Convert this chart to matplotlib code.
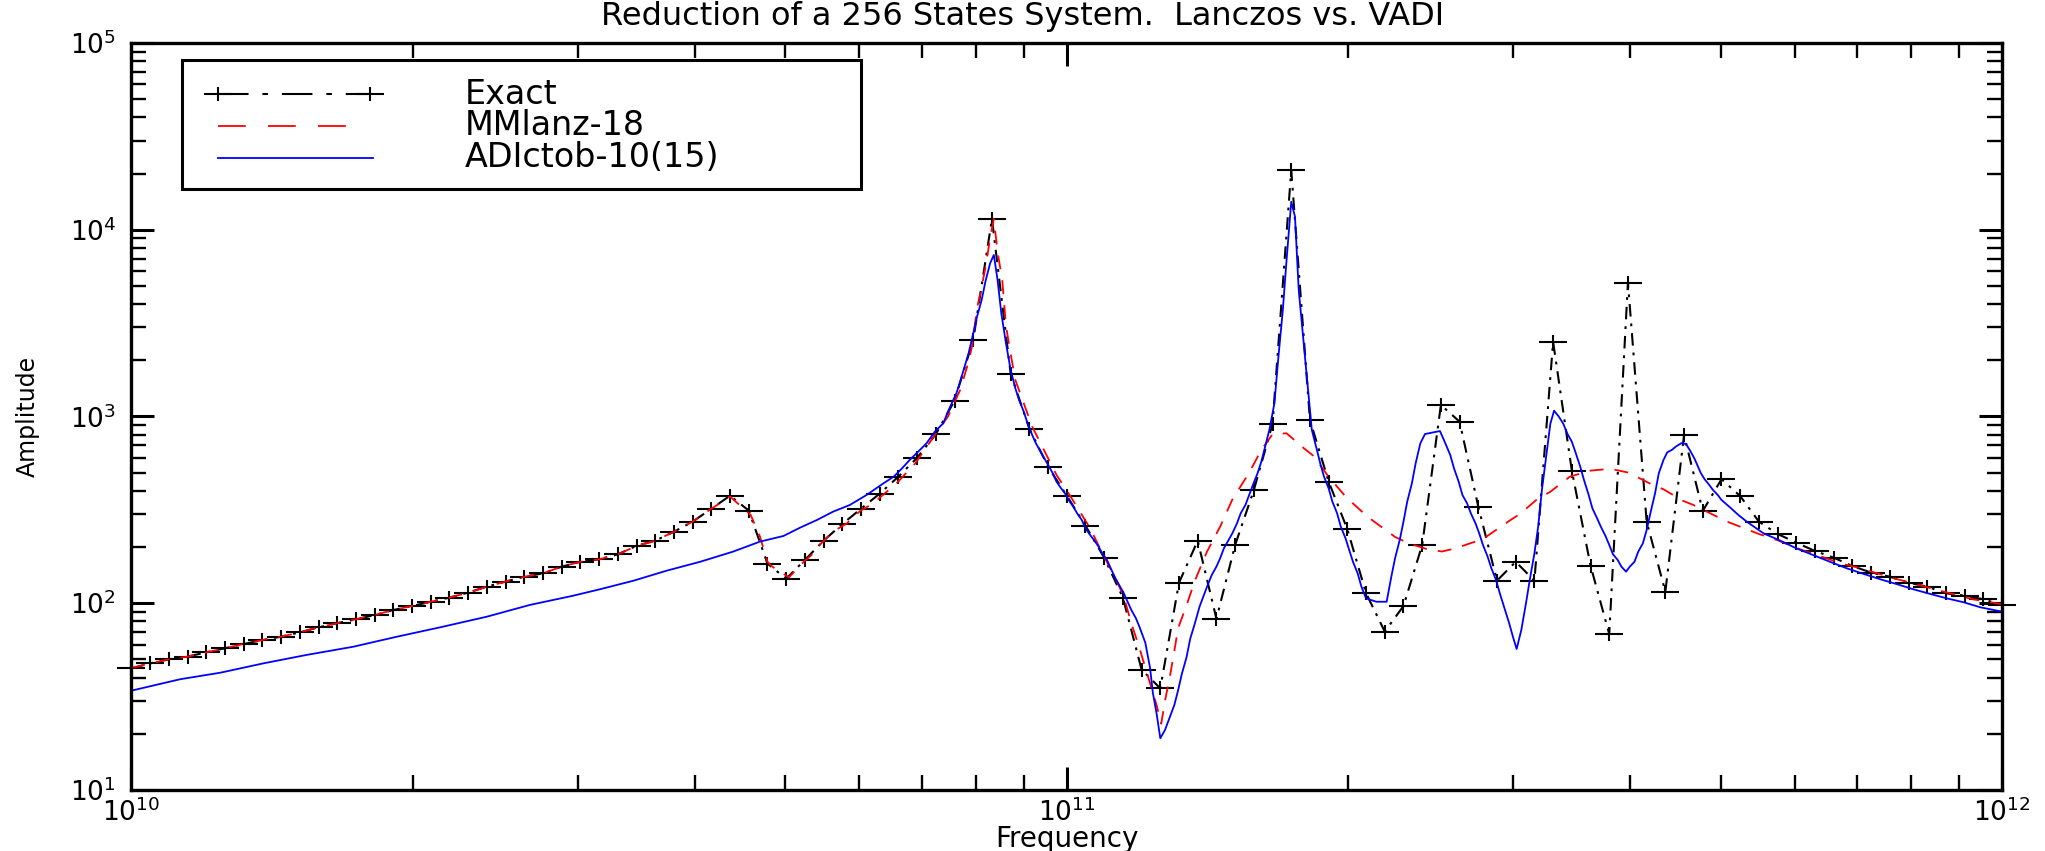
import numpy as np
import matplotlib.pyplot as plt
from matplotlib.path import Path
from matplotlib.ticker import LogLocator, FuncFormatter, NullFormatter

plt.rcParams['lines.scale_dashes'] = False

# Exact response: one sample every 0.02 decade from 1e10 to 1e12 Hz
exact_freq = np.logspace(10, 12, 101)
exact_amp = [44.9, 47.6, 50.1, 51.8, 54.6, 57.4, 60.5, 63.5, 66.2, 69.8,
             74.3, 78.2, 82.0, 86.5, 92.0, 96.6, 101.9, 107.2, 114.0, 122.7,
             130.6, 138.7, 144.5, 157.0, 166.7, 171.8, 182.8, 202.8, 216.3, 241.5,
             273.5, 320.6, 376.7, 313.3, 162.9, 135.2, 170.6, 216.3, 265.5, 320.6,
             386.4, 476.4, 601.2, 803.5, 1216, 2570, 11430, 1694, 861, 538,
             376.7, 260.0, 175.4, 107.2, 44.1, 35.0, 128.8, 216.3, 82.6, 205.1,
             403.6, 912, 20890, 957, 448, 248.9, 113.0, 70.5, 96.6, 205.1,
             1153, 938, 328.9, 132.1, 166.7, 132.1, 2512, 512.9, 158.9, 68.4,
             5212, 273.5, 115.3, 796, 311.9, 461.3, 375.0, 273.5, 235.0, 210.9,
             190.5, 175.4, 158.1, 145.9, 138.7, 128.8, 122.7, 113.0, 109.9, 105.0,
             97.9]

# MMlanz-18 curve (log10 frequency, log10 amplitude)
mml_logf = [10.00, 10.02, 10.04, 10.06, 10.08, 10.10, 10.12, 10.14, 10.16, 10.18,
            10.20, 10.22, 10.24, 10.26, 10.28, 10.30, 10.32, 10.34, 10.36, 10.38,
            10.40, 10.42, 10.44, 10.46, 10.48, 10.50, 10.52, 10.54, 10.56, 10.58,
            10.60, 10.62, 10.640, 10.662, 10.672, 10.680, 10.685, 10.703, 10.707, 10.715,
            10.729, 10.734, 10.750, 10.765, 10.779, 10.793, 10.818, 10.838, 10.859, 10.873,
            10.886, 10.895, 10.899, 10.904, 10.909, 10.914, 10.918, 10.922, 10.926, 10.931,
            10.935, 10.940, 10.945, 10.954, 10.963, 10.989, 11.003, 11.025, 11.039, 11.052,
            11.061, 11.069, 11.078, 11.096, 11.101, 11.105, 11.110, 11.115, 11.119, 11.128,
            11.137, 11.150, 11.164, 11.177, 11.195, 11.208, 11.220, 11.235, 11.253, 11.264,
            11.280, 11.299, 11.321, 11.330, 11.351, 11.365, 11.385, 11.401, 11.415, 11.445,
            11.474, 11.485, 11.502, 11.517, 11.538, 11.560, 11.581, 11.601, 11.625, 11.638,
            11.659, 11.670, 11.706, 11.741, 11.759, 11.784, 11.830, 11.845, 11.884, 11.927,
            11.969, 12.000]
mml_loga = [1.652, 1.678, 1.700, 1.714, 1.737, 1.759, 1.782, 1.803, 1.821, 1.844,
            1.871, 1.893, 1.914, 1.937, 1.964, 1.985, 2.008, 2.030, 2.057, 2.089,
            2.116, 2.142, 2.160, 2.196, 2.222, 2.235, 2.262, 2.307, 2.335, 2.383,
            2.437, 2.506, 2.571, 2.473, 2.356, 2.222, 2.196, 2.139, 2.160, 2.205,
            2.267, 2.303, 2.383, 2.428, 2.494, 2.535, 2.642, 2.749, 2.901, 3.000,
            3.142, 3.293, 3.383, 3.579, 3.693, 3.822, 3.956, 4.058, 3.881, 3.731,
            3.485, 3.335, 3.195, 3.071, 2.946, 2.687, 2.580, 2.401, 2.258, 2.134,
            2.035, 1.893, 1.755, 1.455, 1.355, 1.477, 1.600, 1.744, 1.866, 1.988,
            2.121, 2.277, 2.410, 2.555, 2.699, 2.821, 2.905, 2.910, 2.832, 2.788,
            2.677, 2.566, 2.466, 2.432, 2.355, 2.322, 2.290, 2.277, 2.293, 2.344,
            2.444, 2.480, 2.553, 2.597, 2.678, 2.710, 2.720, 2.699, 2.637, 2.610,
            2.548, 2.526, 2.437, 2.369, 2.339, 2.289, 2.210, 2.192, 2.134, 2.076,
            2.021, 1.995]

# ADIctob-10(15) curve (log10 frequency, log10 amplitude)
adi_logf = [10.000, 10.052, 10.095, 10.141, 10.187, 10.237, 10.284, 10.330, 10.380, 10.426,
            10.472, 10.501, 10.537, 10.572, 10.608, 10.643, 10.672, 10.697, 10.715, 10.733,
            10.750, 10.768, 10.786, 10.804, 10.815, 10.824, 10.832, 10.841, 10.850, 10.859,
            10.868, 10.873, 10.877, 10.882, 10.886, 10.895, 10.900, 10.904, 10.909, 10.913,
            10.918, 10.922, 10.926, 10.930, 10.935, 10.940, 10.945, 10.949, 10.954, 10.958,
            10.963, 10.967, 10.971, 10.976, 10.980, 10.985, 10.989, 10.994, 10.998, 11.002,
            11.007, 11.011, 11.016, 11.020, 11.025, 11.029, 11.034, 11.038, 11.043, 11.047,
            11.052, 11.056, 11.061, 11.065, 11.069, 11.074, 11.078, 11.084, 11.089, 11.092,
            11.096, 11.100, 11.105, 11.110, 11.115, 11.119, 11.123, 11.128, 11.132, 11.137,
            11.142, 11.146, 11.150, 11.155, 11.160, 11.164, 11.168, 11.173, 11.177, 11.182,
            11.186, 11.191, 11.195, 11.199, 11.204, 11.208, 11.213, 11.217, 11.222, 11.226,
            11.231, 11.235, 11.240, 11.244, 11.248, 11.253, 11.258, 11.262, 11.267, 11.271,
            11.275, 11.280, 11.284, 11.289, 11.293, 11.298, 11.302, 11.306, 11.311, 11.315,
            11.320, 11.331, 11.342, 11.347, 11.351, 11.356, 11.360, 11.364, 11.369, 11.373,
            11.378, 11.383, 11.390, 11.399, 11.404, 11.410, 11.414, 11.419, 11.423, 11.428,
            11.432, 11.437, 11.441, 11.445, 11.450, 11.454, 11.459, 11.463, 11.468, 11.473,
            11.477, 11.481, 11.486, 11.491, 11.495, 11.500, 11.504, 11.508, 11.513, 11.517,
            11.521, 11.526, 11.531, 11.535, 11.540, 11.544, 11.549, 11.553, 11.558, 11.562,
            11.567, 11.571, 11.576, 11.580, 11.584, 11.589, 11.593, 11.598, 11.602, 11.607,
            11.611, 11.616, 11.620, 11.624, 11.629, 11.633, 11.638, 11.642, 11.647, 11.651,
            11.657, 11.662, 11.666, 11.671, 11.678, 11.682, 11.687, 11.691, 11.696, 11.700,
            11.709, 11.718, 11.727, 11.745, 11.763, 11.780, 11.798, 11.816, 11.834, 11.852,
            11.870, 11.887, 11.905, 11.923, 11.941, 11.959, 11.977, 12.000]
adi_loga = [1.532, 1.593, 1.628, 1.678, 1.723, 1.767, 1.821, 1.871, 1.928, 1.991,
            2.040, 2.075, 2.121, 2.174, 2.222, 2.276, 2.330, 2.360, 2.405, 2.446,
            2.490, 2.526, 2.580, 2.642, 2.678, 2.723, 2.767, 2.811, 2.856, 2.919,
            2.964, 3.026, 3.071, 3.124, 3.187, 3.338, 3.445, 3.534, 3.624, 3.722,
            3.820, 3.865, 3.731, 3.553, 3.392, 3.249, 3.151, 3.088, 3.026, 2.964,
            2.901, 2.856, 2.821, 2.776, 2.740, 2.696, 2.651, 2.615, 2.589, 2.553,
            2.517, 2.482, 2.446, 2.401, 2.365, 2.339, 2.303, 2.267, 2.232, 2.187,
            2.134, 2.098, 2.053, 2.008, 1.964, 1.919, 1.870, 1.788, 1.655, 1.522,
            1.410, 1.277, 1.321, 1.388, 1.455, 1.533, 1.621, 1.710, 1.810, 1.893,
            1.982, 2.035, 2.089, 2.151, 2.196, 2.241, 2.294, 2.339, 2.374, 2.428,
            2.482, 2.526, 2.580, 2.633, 2.696, 2.758, 2.856, 2.937, 3.071, 3.303,
            3.570, 3.838, 4.150, 4.070, 3.677, 3.410, 3.142, 2.928, 2.830, 2.749,
            2.678, 2.615, 2.544, 2.482, 2.410, 2.348, 2.285, 2.222, 2.160, 2.089,
            2.026, 2.008, 2.008, 2.142, 2.241, 2.339, 2.437, 2.544, 2.642, 2.749,
            2.856, 2.906, 2.913, 2.922, 2.865, 2.794, 2.723, 2.651, 2.580, 2.535,
            2.482, 2.428, 2.374, 2.312, 2.249, 2.187, 2.124, 2.053, 1.973, 1.893,
            1.821, 1.755, 1.857, 2.000, 2.124, 2.267, 2.410, 2.606, 2.803, 2.960,
            3.031, 3.000, 2.960, 2.910, 2.865, 2.807, 2.731, 2.660, 2.580, 2.508,
            2.455, 2.410, 2.360, 2.312, 2.262, 2.232, 2.196, 2.169, 2.196, 2.222,
            2.276, 2.321, 2.392, 2.482, 2.589, 2.696, 2.767, 2.808, 2.821, 2.838,
            2.857, 2.853, 2.821, 2.776, 2.696, 2.664, 2.633, 2.606, 2.580, 2.553,
            2.514, 2.473, 2.437, 2.374, 2.335, 2.294, 2.258, 2.222, 2.187, 2.157,
            2.128, 2.103, 2.075, 2.050, 2.026, 2.005, 1.978, 1.955]

series_labels = ['Exact', 'MMlanz-18', 'ADIctob-10(15)']

# wide, flat plus sign like the original plot markers
plus = Path([(-1, 0), (1, 0), (0, -0.5), (0, 0.5)],
            [Path.MOVETO, Path.LINETO, Path.MOVETO, Path.LINETO])

fig = plt.figure(figsize=(20.45, 8.51), dpi=100)
ax = fig.add_axes([0.0643, 0.0717, 0.9147, 0.8778])
ax.set_xscale('log')
ax.set_yscale('log')

ax.plot(exact_freq, exact_amp, color='black', lw=1.5, dashes=(9, 5, 2, 5),
        marker=plus, ms=20, mew=1.5, mfc='none', mec='black', clip_on=False, zorder=2)
ax.plot(10 ** np.array(mml_logf), 10 ** np.array(mml_loga), color='red', lw=1.3,
        dashes=(10, 8), zorder=2.1)
ax.plot(10 ** np.array(adi_logf), 10 ** np.array(adi_loga), color='blue', lw=1.3, zorder=2.2)

ax.set_xlim(1e10, 1e12)
ax.set_ylim(1e1, 1e5)

# ticks on all four sides, pointing in
sub = np.arange(2, 10)
ax.xaxis.set_minor_locator(LogLocator(base=10, subs=sub, numticks=20))
ax.yaxis.set_minor_locator(LogLocator(base=10, subs=sub, numticks=20))
ax.xaxis.set_minor_formatter(NullFormatter())
ax.yaxis.set_minor_formatter(NullFormatter())
fmt = FuncFormatter(lambda v, p: r'$\mathdefault{10^{%d}}$' % round(np.log10(v)))
ax.xaxis.set_major_formatter(fmt)
ax.yaxis.set_major_formatter(fmt)
ax.tick_params(which='both', direction='in', top=True, right=True)
ax.tick_params(which='major', length=16.5, width=2.2)
ax.tick_params(which='minor', length=10.8, width=1.7)
ax.tick_params(axis='y', labelsize=19, pad=11)
ax.tick_params(axis='x', labelsize=19, pad=6, labelfontfamily='Liberation Sans Narrow')
for s in ax.spines.values():
    s.set_linewidth(2.4)

ax.set_xlabel('Frequency', fontsize=20, family='Liberation Sans Narrow', va='center')
ax.xaxis.set_label_coords(0.5, -0.065)
ax.set_ylabel('Amplitude', fontsize=17, family='Liberation Sans Narrow', va='center')
ax.yaxis.set_label_coords(-0.0555, 0.5)

fig.text(0.5, 1 - 17 / 851, 'Reduction of a 256 States System.  Lanczos vs. VADI',
         ha='center', va='center', fontsize=23)

# legend box drawn in axes coordinates
ax.add_patch(plt.Rectangle((0.027, 0.804), 0.363, 0.173, transform=ax.transAxes,
                           fc='white', ec='black', lw=2.2, zorder=5))
ax.plot([0.0464, 0.1275], [0.9313, 0.9313], transform=ax.transAxes, color='black',
        lw=1.5, dashes=(22, 10, 4, 10), marker=plus, ms=20, mew=1.5, mfc='none',
        clip_on=False, zorder=6)
ax.plot([0.0464, 0.1159], [0.8889, 0.8889], transform=ax.transAxes, color='red',
        lw=1.3, dashes=(20, 16), zorder=6)
ax.plot([0.0464, 0.1292], [0.8464, 0.8464], transform=ax.transAxes, color='blue',
        lw=1.3, zorder=6)
for ypos, lab in zip([0.9313, 0.8889, 0.8464], series_labels):
    ax.text(0.1783, ypos, lab, transform=ax.transAxes, fontsize=24, va='center', zorder=6)

plt.savefig('out.png', dpi=100)
